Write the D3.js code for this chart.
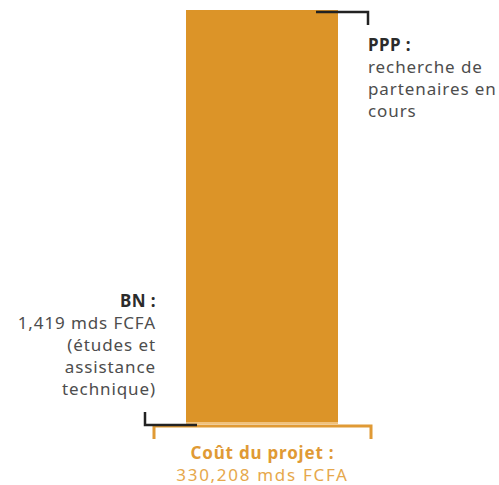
<!DOCTYPE html>
<meta charset="utf-8">
<style>
body { margin: 0; background: #fff; }
svg { display: block; }
text { font-family: "Noto Sans", sans-serif; }
.lbl { fill: #4d4d4d; font-size: 17px; letter-spacing: 0.9px; }
.lbl .b { fill: #2b2b2b; font-weight: 700; letter-spacing: 0.4px; }
.tot { fill: #e6a84c; font-size: 17px; text-anchor: middle; letter-spacing: 1.7px; }
.tot.b { fill: #e09a35; font-weight: 700; letter-spacing: 0.8px; }
</style>
<svg id="thevis" width="499" height="485"></svg>
<script src="https://cdn.jsdelivr.net/npm/d3@7"></script>
<script>
// financement du projet (mds FCFA)
var parts = ["BN", "PPP"];
var amounts = [1.419, 328.789];
var total = 330.208;
var barColors = ["#f2c27a", "#dc9428"];

var svg = d3.select("svg");

var y = d3.scaleLinear().domain([0, total]).range([424, 10]);
var x = d3.scaleBand().domain(["projet"]).range([186, 338]).padding(0);

// stack the two parts
var stack = [], acc = 0;
parts.forEach(function(p, i) {
  stack.push({part: p, y0: acc, y1: acc + amounts[i], color: barColors[i]});
  acc += amounts[i];
});

svg.selectAll(".seg")
  .data(stack)
  .enter().append("rect")
    .attr("class", "seg")
    .attr("x", x("projet"))
    .attr("width", x.bandwidth())
    .attr("y", function(d) { return y(d.y1); })
    .attr("height", function(d) { return y(d.y0) - y(d.y1); })
    .attr("fill", function(d) { return d.color; });

// bracket under the whole bar (total)
var bx0 = x("projet") - 32, bx1 = x("projet") + x.bandwidth() + 33;
svg.append("path")
  .attr("d", "M" + bx0 + "," + (y(0) + 15) + "V" + (y(0) + 2) + "H" + bx1 + "V" + (y(0) + 15))
  .attr("fill", "none").attr("stroke", "#e09a35").attr("stroke-width", 3);

// BN leader (bottom left)
svg.append("path")
  .attr("d", "M" + 145 + "," + (y(0) - 12) + "V" + (y(0) + 1) + "H" + (x("projet") + 11))
  .attr("fill", "none").attr("stroke", "#222").attr("stroke-width", 2.5);

// PPP leader (top right)
svg.append("path")
  .attr("d", "M" + (x("projet") + 130) + "," + (y(total) + 2) + "H" + 368 + "V" + (y(total) + 15))
  .attr("fill", "none").attr("stroke", "#222").attr("stroke-width", 2.5);

// labels
var pppLines = ["recherche de", "partenaires en", "cours"];
var bnLines = ["1,419 mds FCFA", "(études et", "assistance", "technique)"];

var ppp = svg.append("text").attr("class", "lbl").attr("x", 368).attr("y", 51);
ppp.append("tspan").attr("class", "b").text("PPP :");
pppLines.forEach(function(t) {
  ppp.append("tspan").attr("x", 368).attr("dy", 22).text(t);
});

var bn = svg.append("text").attr("class", "lbl").attr("x", 156).attr("y", 307)
  .attr("text-anchor", "end");
bn.append("tspan").attr("class", "b").text("BN :");
bnLines.forEach(function(t) {
  bn.append("tspan").attr("x", 156).attr("dy", 22).text(t);
});

var cx = (bx0 + bx1) / 2;
svg.append("text").attr("class", "tot b").attr("x", cx).attr("y", 459)
  .text("Coût du projet :");
svg.append("text").attr("class", "tot").attr("x", cx).attr("y", 481)
  .text("330,208 mds FCFA");
</script>
